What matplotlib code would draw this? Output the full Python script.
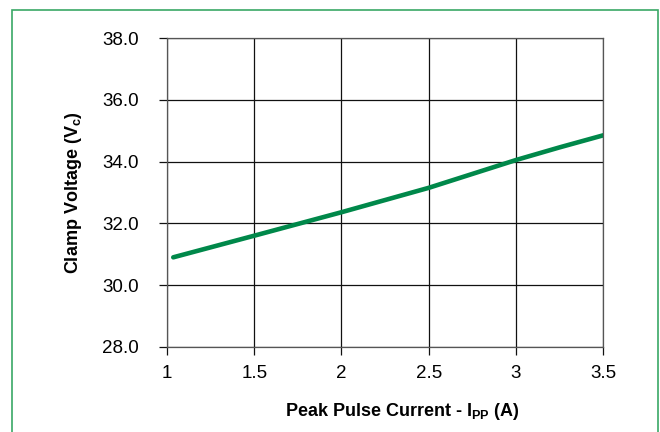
import matplotlib
matplotlib.use("Agg")
import matplotlib.pyplot as plt
from matplotlib.patches import Rectangle

# Clamp voltage vs peak pulse current
current = [1.036, 1.5, 2.0, 2.5, 3.0, 3.25, 3.5]
voltage = [30.9, 31.6, 32.36, 33.15, 34.05, 34.46, 34.85]

x_ticks = [1, 1.5, 2, 2.5, 3, 3.5]
x_labels = ["1", "1.5", "2", "2.5", "3", "3.5"]
y_ticks = [28, 30, 32, 34, 36, 38]
y_labels = ["28.0", "30.0", "32.0", "34.0", "36.0", "38.0"]

plt.rcParams['font.family'] = ['Liberation Sans', 'DejaVu Sans']

fig = plt.figure(figsize=(6.6, 4.32), dpi=100)
ax = fig.add_axes([0.253, 0.197, 0.661, 0.715])

# green frame around the figure (open at the bottom)
fig.patches.append(Rectangle((12 / 660, -0.1), 646 / 660, 1.1 - 10.5 / 432,
                             transform=fig.transFigure, fill=False,
                             edgecolor='#3aa866', linewidth=1.2))

ax.plot(current, voltage, color='#00884a', linewidth=3.3, solid_capstyle='round')

ax.set_xlim(1, 3.5)
ax.set_ylim(28, 38)
ax.set_xticks(x_ticks)
ax.set_xticklabels(x_labels)
ax.set_yticks(y_ticks)
ax.set_yticklabels(y_labels)
ax.grid(True, color='#111111', linewidth=0.9)
for s in ax.spines.values():
    s.set_color('#555555')
    s.set_linewidth(0.9)
ax.tick_params(length=6, width=0.9, color='#111111', labelsize=13.5)
ax.tick_params(axis='y', pad=14)
ax.tick_params(axis='x', pad=7)

ax.set_ylabel("Clamp Voltage (V$_\\mathregular{c}$)", fontsize=13, fontweight='bold')
ax.set_xlabel("Peak Pulse Current - I$_\\mathregular{PP}$ (A)", fontsize=13, fontweight='bold')
ax.xaxis.set_label_coords(0.539, -0.175)
ax.yaxis.set_label_coords(-0.19, 0.5)

fig.savefig("out.png", dpi=100)
